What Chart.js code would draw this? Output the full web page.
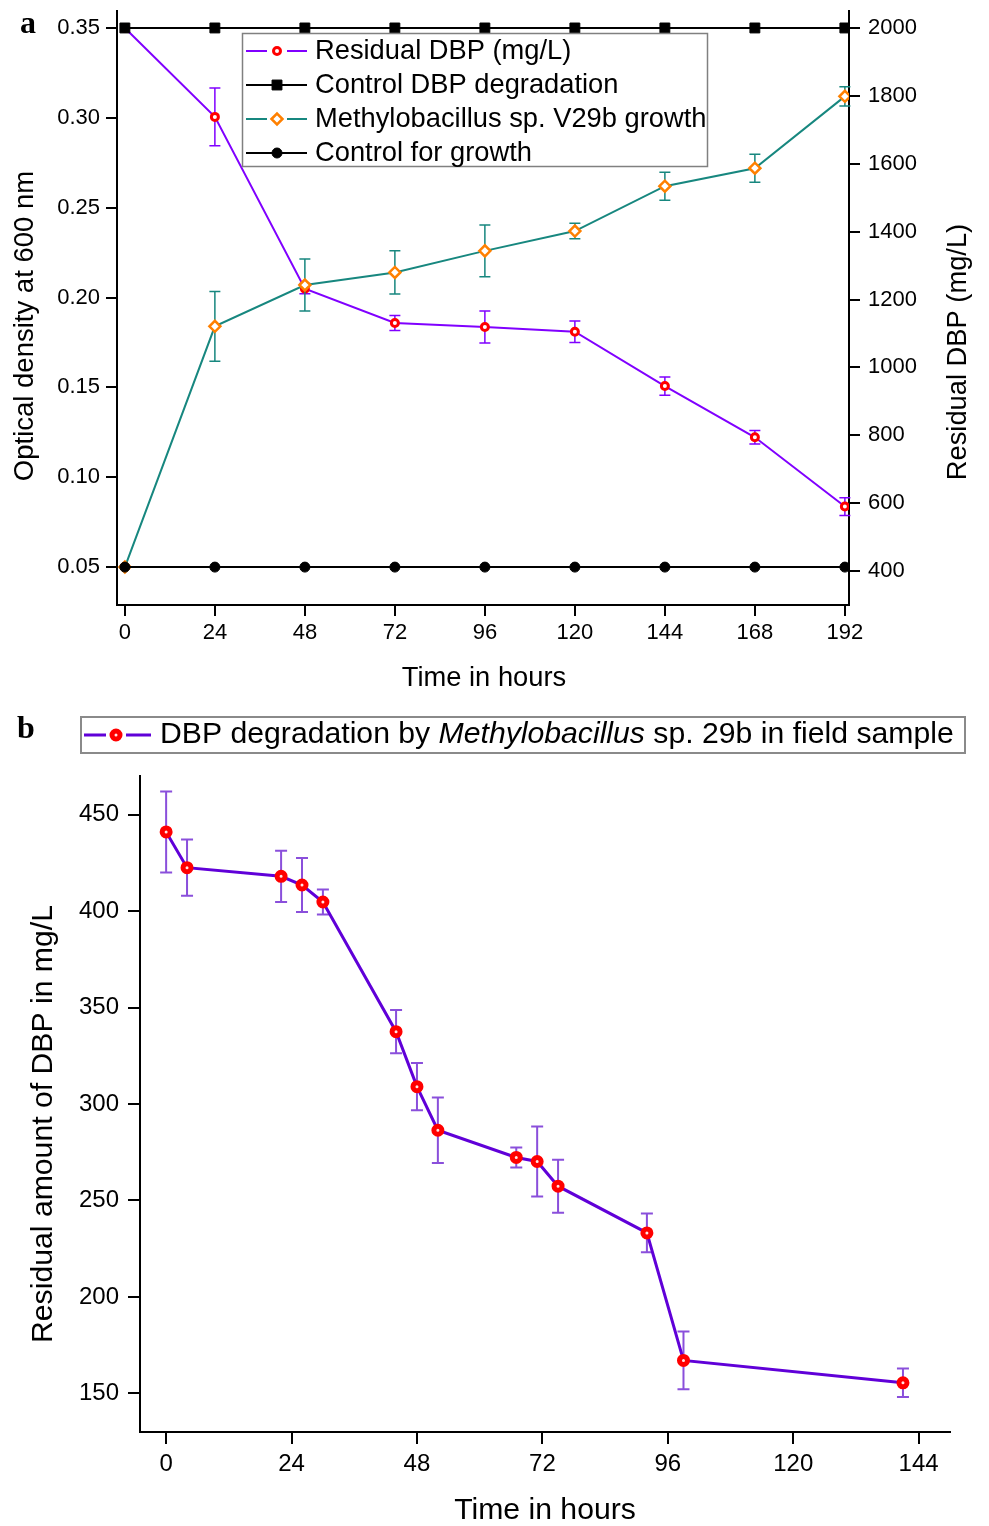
<!DOCTYPE html>
<html>
<head>
<meta charset="utf-8">
<script src="https://cdn.jsdelivr.net/npm/chart.js@4.4.1/dist/chart.umd.min.js"></script>
<style>
  html, body { margin: 0; padding: 0; background: #fff; }
  #wrap { position: relative; width: 989px; height: 1526px; }
  canvas { position: absolute; left: 0; }
  #chartA { top: 0; }
  #chartB { top: 700px; }
</style>
</head>
<body>
<div id="wrap">
  <canvas id="chartA" width="989" height="700"></canvas>
  <canvas id="chartB" width="989" height="826"></canvas>
</div>
<script>
// ---- panel a data ----
const hoursA = [0, 24, 48, 72, 96, 120, 144, 168, 192];
const residualDBP = [2000, 1738, 1232, 1131, 1119, 1105, 945, 794, 590];
const residualErr = [0, 85, 15, 22, 47, 32, 27, 20, 26];
const controlDBP = [2000, 2000, 2000, 2000, 2000, 2000, 2000, 2000, 2000];
const growthOD = [0.05, 0.184, 0.207, 0.214, 0.226, 0.237, 0.262, 0.272, 0.312];
const growthErr = [0, 0.0194, 0.0145, 0.012, 0.0144, 0.0043, 0.0078, 0.0078, 0.0054];
const controlGrowth = [0.05, 0.05, 0.05, 0.05, 0.05, 0.05, 0.05, 0.05, 0.05];
const ticksHoursA = [0, 24, 48, 72, 96, 120, 144, 168, 192];
const ticksOD = [0.05, 0.10, 0.15, 0.20, 0.25, 0.30, 0.35];
const ticksDBP = [400, 600, 800, 1000, 1200, 1400, 1600, 1800, 2000];

// ---- panel b data ----
const hoursB = [0, 4, 22, 26, 30, 44, 48, 52, 67, 71, 75, 92, 99, 141];
const fieldDBP = [441, 422.5, 418, 413.5, 404.7, 337.5, 309, 286.4, 272.3, 270.2, 257.4, 233.2, 167.1, 155.5];
const fieldErr = [21, 14.6, 13.3, 14, 6.5, 11.2, 12.3, 17, 5.2, 18.2, 13.7, 10, 15, 7.4];
const ticksHoursB = [0, 24, 48, 72, 96, 120, 144];
const ticksFieldDBP = [150, 200, 250, 300, 350, 400, 450];

const FONT = '"Liberation Sans", Arial, sans-serif';
const pts = (xs, ys) => xs.map((x, i) => ({ x: x, y: ys[i] }));

// error bars, drawn just under each dataset's own line
const errorBars = {
  id: 'errorBars',
  beforeDatasetDraw(chart, args) {
    const ds = chart.data.datasets[args.index];
    if (!ds.errors) return;
    const ys = chart.scales[args.meta.yAxisID];
    const ctx = chart.ctx;
    ctx.save();
    ctx.strokeStyle = ds.errorColor;
    ctx.lineWidth = ds.errorWidth;
    args.meta.data.forEach((p, i) => {
      const e = ds.errors[i];
      if (!e) return;
      const v = ds.data[i].y;
      const t = ys.getPixelForValue(v + e), b = ys.getPixelForValue(v - e);
      const c = ds.capHalf;
      ctx.beginPath();
      ctx.moveTo(p.x, t); ctx.lineTo(p.x, b);
      ctx.moveTo(p.x - c, t); ctx.lineTo(p.x + c, t);
      ctx.moveTo(p.x - c, b); ctx.lineTo(p.x + c, b);
      ctx.stroke();
    });
    ctx.restore();
  }
};

function marker(ctx, style, x, y, r, bw, fill, stroke) {
  ctx.save();
  ctx.fillStyle = fill; ctx.strokeStyle = stroke; ctx.lineWidth = bw;
  ctx.beginPath();
  if (style === 'circle') ctx.arc(x, y, r, 0, Math.PI * 2);
  else if (style === 'rect') { const s = r * Math.SQRT1_2; ctx.rect(x - s, y - s, 2 * s, 2 * s); }
  else { ctx.moveTo(x - r, y); ctx.lineTo(x, y - r); ctx.lineTo(x + r, y); ctx.lineTo(x, y + r); ctx.closePath(); }
  ctx.fill(); if (bw) ctx.stroke();
  ctx.restore();
}

function drawTitle(ctx, text, x, y, font, rot) {
  ctx.save();
  ctx.translate(x, y);
  if (rot) ctx.rotate(-Math.PI / 2);
  ctx.font = font; ctx.fillStyle = '#000';
  ctx.textAlign = 'center'; ctx.textBaseline = 'middle';
  ctx.fillText(text, 0, 0);
  ctx.restore();
}

const decorA = {
  id: 'decorA',
  afterDatasetsDraw(chart) {
    const ctx = chart.ctx;
    // legend box
    ctx.save();
    ctx.fillStyle = '#fff';
    ctx.fillRect(242, 33, 466, 134);
    ctx.strokeStyle = '#808080'; ctx.lineWidth = 1.5;
    ctx.strokeRect(242.5, 33.5, 465, 133);
    chart.data.datasets.forEach((ds, i) => {
      const y = 51 + i * 34;
      ctx.strokeStyle = ds.borderColor; ctx.lineWidth = 2;
      ctx.beginPath();
      if (ds.pointBackgroundColor === '#ffffff') {
        ctx.moveTo(246, y); ctx.lineTo(267, y); ctx.moveTo(287, y); ctx.lineTo(307, y);
      } else { ctx.moveTo(246, y); ctx.lineTo(307, y); }
      ctx.stroke();
      marker(ctx, ds.pointStyle, 277, y, ds.pointRadius, ds.pointBorderWidth, ds.pointBackgroundColor, ds.pointBorderColor);
      ctx.font = '27.3px ' + FONT; ctx.fillStyle = '#000';
      ctx.textAlign = 'left'; ctx.textBaseline = 'middle';
      ctx.fillText(ds.label, 315, y);
    });
    ctx.restore();
  },
  afterDraw(chart) {
    const ctx = chart.ctx;
    drawTitle(ctx, 'Optical density at 600 nm', 25, 326, '27.5px ' + FONT, true);
    drawTitle(ctx, 'Residual DBP (mg/L)', 958, 352, '27.3px ' + FONT, true);
    drawTitle(ctx, 'Time in hours', 484, 678, '27.3px ' + FONT, false);
    ctx.save();
    ctx.font = 'bold 32px "Liberation Serif", serif'; ctx.fillStyle = '#000';
    ctx.textBaseline = 'alphabetic'; ctx.fillText('a', 20, 33);
    ctx.restore();
  }
};

const legendItalic = 'Methylobacillus';
const decorB = {
  id: 'decorB',
  afterDraw(chart) {
    const ctx = chart.ctx;
    const ds = chart.data.datasets[0];
    ctx.save();
    ctx.fillStyle = '#fff';
    ctx.fillRect(80, 16, 885, 37);
    ctx.strokeStyle = '#8a8a8a'; ctx.lineWidth = 2;
    ctx.strokeRect(81, 17, 884, 36);
    ctx.strokeStyle = ds.borderColor; ctx.lineWidth = 3;
    ctx.beginPath();
    ctx.moveTo(84, 35); ctx.lineTo(106, 35); ctx.moveTo(126, 35); ctx.lineTo(151, 35);
    ctx.stroke();
    marker(ctx, 'circle', 116, 35, ds.pointRadius, ds.pointBorderWidth, ds.pointBackgroundColor, ds.pointBorderColor);
    const parts = ds.label.split(legendItalic);
    const pieces = [[parts[0], ''], [legendItalic, 'italic '], [parts[1], '']];
    let x = 160;
    ctx.fillStyle = '#000'; ctx.textAlign = 'left'; ctx.textBaseline = 'middle';
    pieces.forEach(([t, st]) => {
      ctx.font = st + '30.2px ' + FONT;
      ctx.fillText(t, x, 35);
      x += ctx.measureText(t).width;
    });
    ctx.font = 'bold 32px "Liberation Serif", serif';
    ctx.textBaseline = 'alphabetic'; ctx.textAlign = 'left';
    ctx.fillText('b', 17, 38);
    ctx.restore();
    drawTitle(ctx, 'Residual amount of DBP in mg/L', 44, 424, '30.2px ' + FONT, true);
    drawTitle(ctx, 'Time in hours', 545, 811, '30.2px ' + FONT, false);
  }
};

function axis(opts) {
  return Object.assign({
    type: 'linear',
    grid: { display: true, drawOnChartArea: false, drawTicks: true, tickLength: opts.tl, color: '#000', lineWidth: 2 },
    border: { display: true, color: '#000', width: 2 },
    title: { display: false }
  }, opts.cfg);
}

// ---- chart a ----
new Chart(document.getElementById('chartA'), {
  type: 'line',
  data: {
    datasets: [
      { label: 'Residual DBP (mg/L)', data: pts(hoursA, residualDBP), yAxisID: 'yDBP',
        borderColor: '#8000ff', borderWidth: 2, pointStyle: 'circle', pointRadius: 3.5,
        pointBorderWidth: 3, pointBorderColor: '#ff0000', pointBackgroundColor: '#ffffff',
        errors: residualErr, errorColor: '#8000ff', errorWidth: 1.5, capHalf: 5.5, order: 4 },
      { label: 'Control DBP degradation', data: pts(hoursA, controlDBP), yAxisID: 'yDBP',
        borderColor: '#000000', borderWidth: 2, pointStyle: 'rect', pointRadius: 7,
        pointBorderWidth: 1, pointBorderColor: '#000000', pointBackgroundColor: '#000000', order: 2 },
      { label: 'Methylobacillus sp. V29b growth', data: pts(hoursA, growthOD), yAxisID: 'yOD',
        borderColor: '#17877f', borderWidth: 2, pointStyle: 'rectRot', pointRadius: 5.5,
        pointBorderWidth: 2.5, pointBorderColor: '#ff8000', pointBackgroundColor: '#ffffff',
        errors: growthErr, errorColor: '#17877f', errorWidth: 1.5, capHalf: 5.5, order: 3 },
      { label: 'Control for growth', data: pts(hoursA, controlGrowth), yAxisID: 'yOD',
        borderColor: '#000000', borderWidth: 2, pointStyle: 'circle', pointRadius: 5,
        pointBorderWidth: 1, pointBorderColor: '#000000', pointBackgroundColor: '#000000', order: 1 }
    ]
  },
  options: {
    responsive: false, animation: false, events: [],
    layout: { padding: { top: 11, left: 0, right: 0, bottom: 0 } },
    plugins: { legend: { display: false }, tooltip: { enabled: false } },
    scales: {
      x: axis({ tl: 11, cfg: {
        position: 'bottom', min: -2.1, max: 193.1,
        afterBuildTicks: s => { s.ticks = ticksHoursA.map(v => ({ value: v })); },
        afterFit: s => { s.height = 95; s.paddingLeft = 0; s.paddingRight = 0; },
        ticks: { color: '#000', font: { family: FONT, size: 22 }, padding: 4, maxRotation: 0, autoSkip: false }
      } }),
      yOD: axis({ tl: 11, cfg: {
        position: 'left', min: 0.0289, max: 0.3595,
        afterBuildTicks: s => { s.ticks = ticksOD.map(v => ({ value: v })); },
        afterFit: s => { s.width = 117; s.paddingTop = 0; s.paddingBottom = 0; },
        ticks: { color: '#000', font: { family: FONT, size: 22 }, padding: 6, autoSkip: false,
                 callback: v => v.toFixed(2) }
      } }),
      yDBP: axis({ tl: 11, cfg: {
        position: 'right', min: 300, max: 2050,
        afterBuildTicks: s => { s.ticks = ticksDBP.map(v => ({ value: v })); },
        afterFit: s => { s.width = 140; s.paddingTop = 0; s.paddingBottom = 0; },
        ticks: { color: '#000', font: { family: FONT, size: 22 }, padding: 8, autoSkip: false,
                 callback: v => String(v) }
      } })
    }
  },
  plugins: [errorBars, decorA]
});

// ---- chart b ----
new Chart(document.getElementById('chartB'), {
  type: 'line',
  data: {
    datasets: [
      { label: 'DBP degradation by Methylobacillus sp. 29b in field sample', data: pts(hoursB, fieldDBP),
        yAxisID: 'y', borderColor: '#6000d8', borderWidth: 3, pointStyle: 'circle', pointRadius: 4,
        pointBorderWidth: 5, pointBorderColor: '#ff0000', pointBackgroundColor: '#ffe6e6',
        errors: fieldErr, errorColor: 'rgba(125,60,215,0.9)', errorWidth: 2, capHalf: 6 }
    ]
  },
  options: {
    responsive: false, animation: false, events: [],
    layout: { padding: { top: 76, left: 0, right: 39, bottom: 0 } },
    plugins: { legend: { display: false }, tooltip: { enabled: false } },
    scales: {
      x: axis({ tl: 12, cfg: {
        position: 'bottom', min: -5, max: 150,
        afterBuildTicks: s => { s.ticks = ticksHoursB.map(v => ({ value: v })); },
        afterFit: s => { s.height = 94; s.paddingLeft = 0; s.paddingRight = 0; },
        ticks: { color: '#000', font: { family: FONT, size: 24 }, padding: 6, maxRotation: 0, autoSkip: false }
      } }),
      y: axis({ tl: 12, cfg: {
        position: 'left', min: 130, max: 470,
        afterBuildTicks: s => { s.ticks = ticksFieldDBP.map(v => ({ value: v })); },
        afterFit: s => { s.width = 140; s.paddingTop = 0; s.paddingBottom = 0; },
        ticks: { color: '#000', font: { family: FONT, size: 24 }, padding: 9, autoSkip: false,
                 callback: v => String(v) }
      } })
    }
  },
  plugins: [errorBars, decorB]
});
</script>
</body>
</html>
